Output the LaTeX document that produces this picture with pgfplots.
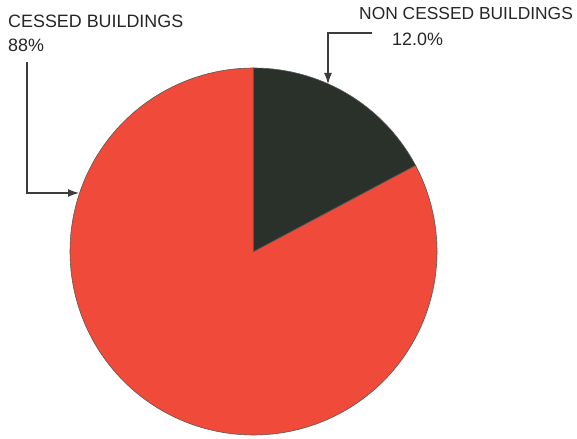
\documentclass[border=0pt]{standalone}
\usepackage{fontspec}
\setmainfont{Liberation Sans}
\usepackage{pgfplots}
\pgfplotsset{compat=1.18}
\usepgfplotslibrary{polar}
\usetikzlibrary{arrows.meta}
\definecolor{pieRed}{RGB}{240,74,58}
\definecolor{pieDark}{RGB}{42,48,42}
\definecolor{lineGray}{RGB}{60,60,60}
\begin{document}
\begin{tikzpicture}[x=1bp,y=1bp]
\useasboundingbox (0,0) rectangle (577,439);
\clip (0,0) rectangle (577,439);
\begin{polaraxis}[
  hide axis,
  scale only axis,
  width=367bp, height=367bp,
  ymin=0, ymax=1,
  clip=false,
  at={(253.5bp,187.5bp)}, anchor=origin,
]
% red slice: cessed buildings
\addplot[draw=pieDark!80, line width=0.6bp, fill=pieRed, domain=90:388, samples=150] {1} -- (axis cs:0,0) -- cycle;
% dark slice: non cessed buildings
\addplot[draw=pieDark!80, line width=0.6bp, fill=pieDark, domain=28:90, samples=40] {1} -- (axis cs:0,0) -- cycle;
\end{polaraxis}
\fontsize{17.9bp}{21bp}\selectfont
\node[anchor=base west, inner sep=0pt, text=black!85] at (8,411) {CESSED BUILDINGS};
\node[anchor=base west, inner sep=0pt, text=black!85] at (8,387) {88\%};
\node[anchor=base west, inner sep=0pt, text=black!85, font=\fontsize{17.4bp}{21bp}\selectfont] at (359,419) {NON CESSED BUILDINGS};
\node[anchor=base west, inner sep=0pt, text=black!85] at (392,393) {12.0\%};
\draw[lineGray, line width=1.1bp, -{Latex[length=11bp,width=8bp]}] (27,377) -- (27,246) -- (79,246);
\draw[lineGray, line width=1.1bp, -{Latex[length=11bp,width=8bp]}] (372,406) -- (328,406) -- (328,355);
\end{tikzpicture}
\end{document}
